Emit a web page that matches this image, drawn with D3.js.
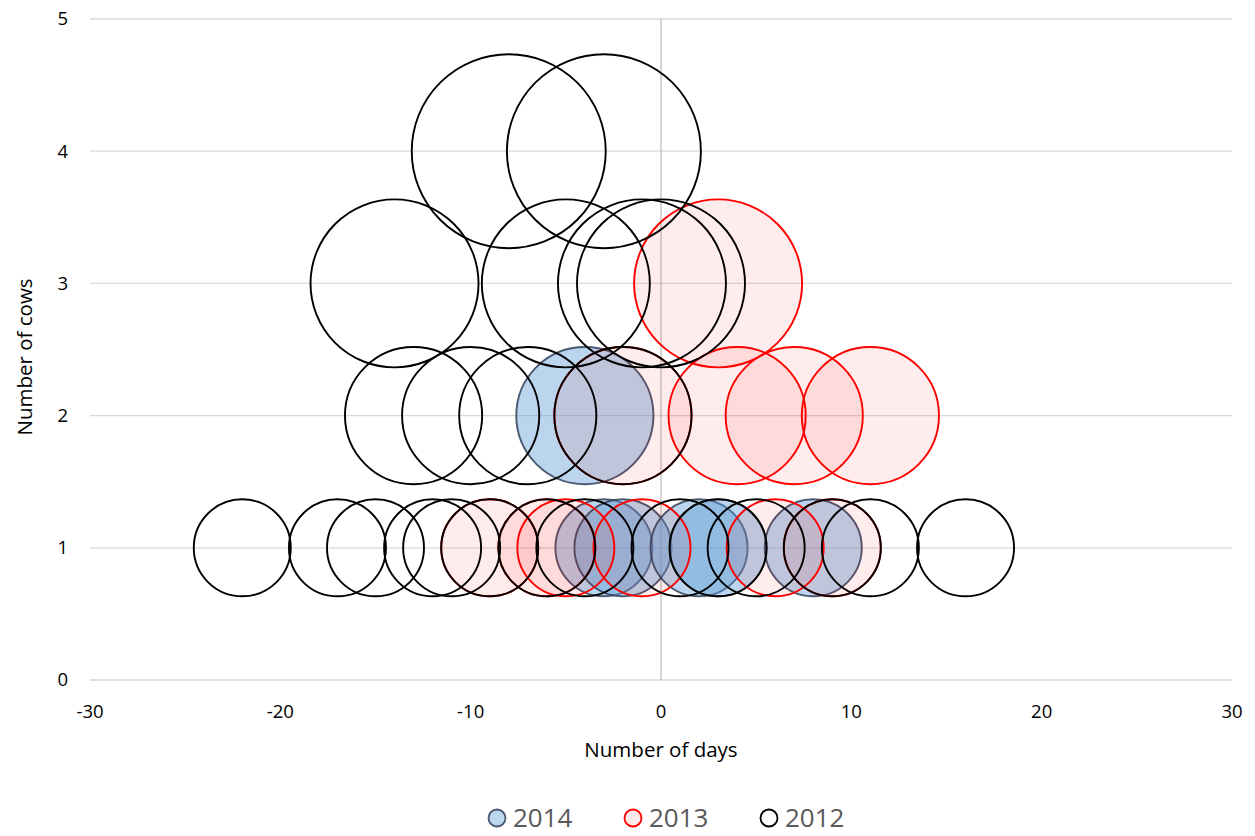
<!DOCTYPE html>
<html>
<head>
<meta charset="utf-8">
<script src="https://cdn.jsdelivr.net/npm/d3@7"></script>
<style>
  html, body { margin: 0; padding: 0; background: #fff; }
  svg { display: block; }
</style>
</head>
<body>
<svg id="chart" width="1255" height="836"></svg>
<script>
// ---- Data ----
const days2014 = [-4, -3, -2, 2, 3, 8];
const cows2014 = [2, 1, 1, 1, 1, 1];

const days2013 = [3, -2, 4, 7, 11, -9, -6, -5, -1, 6, 9];
const cows2013 = [3, 2, 2, 2, 2, 1, 1, 1, 1, 1, 1];

const days2012 = [-8, -3, -14, -5, -1, 0, -13, -10, -7, -2,
                  -22, -17, -15, -12, -11, -9, -6, -4, 1, 3, 5, 9, 11, 16];
const cows2012 = [4, 4, 3, 3, 3, 3, 2, 2, 2, 2,
                  1, 1, 1, 1, 1, 1, 1, 1, 1, 1, 1, 1, 1, 1];

const seriesNames = ["2014", "2013", "2012"];
const xTicks = [-30, -20, -10, 0, 10, 20, 30];
const yTicks = [0, 1, 2, 3, 4, 5];
const xTitle = "Number of days";
const yTitle = "Number of cows";

// ---- Styles ----
const styles = {
  "2014": { fill: "rgba(91,155,213,0.42)", stroke: "rgba(47,62,88,0.85)" },
  "2013": { fill: "rgba(255,0,0,0.075)", stroke: "#ff0000" },
  "2012": { fill: "none", stroke: "#000000" }
};

const series = [
  { name: "2014", pts: days2014.map((d, i) => ({ x: d, y: cows2014[i], s: cows2014[i] })) },
  { name: "2013", pts: days2013.map((d, i) => ({ x: d, y: cows2013[i], s: cows2013[i] })) },
  { name: "2012", pts: days2012.map((d, i) => ({ x: d, y: cows2012[i], s: cows2012[i] })) }
];

const svg = d3.select("#chart");
const x = d3.scaleLinear().domain([-30, 30]).range([90, 1232]);
const y = d3.scaleLinear().domain([0, 5]).range([680, 19]);
const r = d3.scaleSqrt().domain([0, 4]).range([0, 97]);

const fontTick = "'Open Sans', sans-serif";

// gridlines
svg.append("g").selectAll("line").data(yTicks).join("line")
  .attr("x1", x(-30)).attr("x2", x(30))
  .attr("y1", d => y(d)).attr("y2", d => y(d))
  .attr("stroke", "#d9d9d9").attr("stroke-width", 1.3);

// vertical axis line at x=0
svg.append("line")
  .attr("x1", x(0)).attr("x2", x(0))
  .attr("y1", y(5)).attr("y2", y(0))
  .attr("stroke", "#bfbfbf").attr("stroke-width", 1.3);

// y tick labels
svg.append("g").selectAll("text").data(yTicks).join("text")
  .attr("x", 68).attr("y", d => y(d))
  .attr("dy", "0.35em")
  .attr("text-anchor", "end")
  .attr("font-family", fontTick).attr("font-size", 18.5)
  .attr("fill", "#000")
  .text(d => d);

// x tick labels
svg.append("g").selectAll("text").data(xTicks).join("text")
  .attr("x", d => x(d)).attr("y", 712)
  .attr("dy", "0.35em")
  .attr("text-anchor", "middle")
  .attr("font-family", fontTick).attr("font-size", 18.5)
  .attr("fill", "#000")
  .text(d => d);

// axis titles
svg.append("text")
  .attr("x", x(0)).attr("y", 750)
  .attr("dy", "0.35em")
  .attr("text-anchor", "middle")
  .attr("font-family", fontTick).attr("font-size", 20.5)
  .attr("fill", "#000")
  .text(xTitle);

svg.append("text")
  .attr("transform", `translate(25, 357) rotate(-90)`)
  .attr("dy", "0.35em")
  .attr("text-anchor", "middle")
  .attr("font-family", fontTick).attr("font-size", 20.5)
  .attr("fill", "#000")
  .text(yTitle);

// bubbles
const plot = svg.append("g");
series.forEach(sr => {
  const st = styles[sr.name];
  plot.append("g").selectAll("circle").data(sr.pts).join("circle")
    .attr("cx", d => x(d.x)).attr("cy", d => y(d.y))
    .attr("r", d => r(d.s))
    .attr("fill", st.fill)
    .attr("stroke", st.stroke)
    .attr("stroke-width", 1.9);
});

// legend
const legendX = [497, 633, 769];
const lg = svg.append("g").selectAll("g").data(seriesNames).join("g")
  .attr("transform", (d, i) => `translate(${legendX[i]}, 818)`);
lg.append("circle").attr("r", 8.5)
  .attr("fill", d => d === "2012" ? "#fff" : (d === "2014" ? "#bdd7ee" : "#fdeaea"))
  .attr("stroke", d => styles[d].stroke).attr("stroke-width", 1.8);
lg.append("text").attr("x", 16).attr("dy", "0.35em")
  .attr("font-family", fontTick).attr("font-size", 26)
  .attr("fill", "#595959")
  .text(d => d);
</script>
</body>
</html>
